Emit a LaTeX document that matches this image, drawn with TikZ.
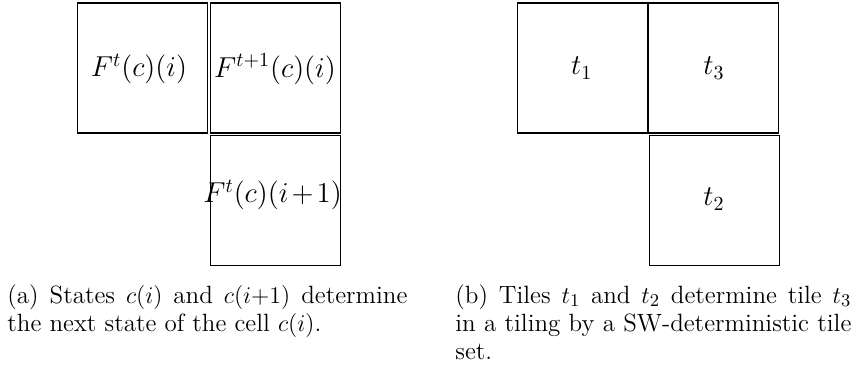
\documentclass[tikz,border=0pt]{standalone}
\usepackage{amsmath}
\begin{document}
\begin{tikzpicture}[x=0.5pt,y=-0.5pt,
  cellbox/.style={draw,line width=0.9pt,minimum width=65pt,minimum height=65pt,inner sep=0pt,outer sep=0pt},
  celltext/.style={inner sep=0pt,font=\fontsize{14}{16}\selectfont},
  captxt/.style={inner sep=0pt,anchor=north west,align=justify,font=\fontsize{12.5}{14}\selectfont}]
\useasboundingbox (0,0) rectangle (852,367);
% left figure
\node[cellbox] (a1) at (142.5,68) {};
\node[cellbox] (a2) at (275.5,68) {};
\node[cellbox] (a3) at (275.5,200.5) {};
\node[celltext] (ta1) at (139,69) {$F^t(c)(i)$};
\node[celltext] (ta2) at (275,69) {$F^{t+1}(c)(i)$};
\node[celltext] (ta3) at (272.6,195) {$F^t(c)(i\mskip2mu{+}\mskip2mu1)$};
% right figure
\node[cellbox] (b1) at (582.5,68) {};
\node[cellbox] (b2) at (713.5,68) {};
\node[cellbox] (b3) at (714.5,200.5) {};
\node[celltext] (tb1) at (581.7,68) {$t_1$};
\node[celltext] (tb3) at (714,68) {$t_3$};
\node[celltext] (tb2) at (714,199) {$t_2$};
% captions
\node[captxt,text width=200pt] (capa) at (7,284) {(a) States $c(i)$ and $c(i{+}1)$ determine the next state of the cell $c(i)$.};
\node[captxt,text width=198pt] (capb) at (455,284) {(b) Tiles $t_1$ and $t_2$ determine tile $t_3$ in a tiling by a SW-deterministic tile set.};
\end{tikzpicture}
\end{document}
